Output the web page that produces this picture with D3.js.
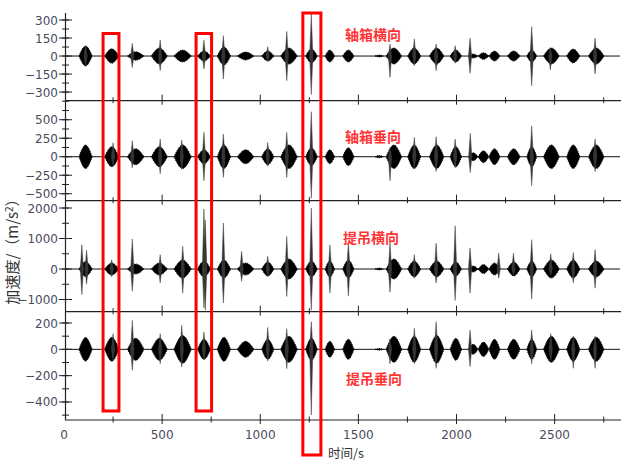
<!DOCTYPE html>
<html>
<head>
<meta charset="utf-8">
<script src="https://cdn.jsdelivr.net/npm/d3@7/dist/d3.min.js"></script>
<style>
    body { margin: 0; background: #fff; }
    svg { display: block; }
</style>
</head>
<body>
<div id="space"></div>
<script>
// time span of each burst (s)
var bursts = [
    [76, 144], [207, 280], [323, 408], [445, 527], [560, 649], [680, 747], [781, 849],
    [883, 968], [1007, 1070], [1104, 1189], [1231, 1291], [1330, 1379], [1420, 1478],
    [1585, 1627], [1641, 1721], [1751, 1818], [1862, 1936], [1967, 2026],
    [2060, 2110], [2110, 2165], [2165, 2222], [2259, 2324], [2358, 2409],
    [2443, 2524], [2561, 2629], [2672, 2752]
];

// body amplitude of each burst, one list per panel (m/s2)
var ampAxleLat = [83, 60, 35, 67, 50, 42, 75, 33, 42, 67, 58, 50, 50, 8, 67, 67, 67, 50, 17, 28, 42, 42, 50, 67, 58, 67];
var ampAxleVer = [160, 135, 108, 135, 160, 95, 160, 95, 108, 160, 120, 95, 120, 15, 160, 160, 160, 135, 54, 80, 108, 108, 135, 160, 160, 160];
var ampHangLat = [245, 200, 165, 200, 295, 260, 295, 200, 230, 330, 260, 260, 295, 30, 330, 260, 260, 230, 100, 150, 200, 230, 260, 295, 295, 260];
var ampHangVer = [90, 91, 84, 84, 106, 76, 91, 61, 76, 99, 84, 61, 76, 6, 99, 99, 106, 84, 38, 55, 76, 76, 76, 99, 91, 91];

// isolated peaks: [time, max, min]
var spkAxleLat = [[110, 85, -75], [348, 105, -95], [490, 133, -122], [713, 133, -108], [812, 170, -192],
    [1038, 78, -45], [1135, 205, -205], [1260, 350, -320], [1661, 100, -178], [1785, 142, -80],
    [1896, 100, -122], [1993, 86, -60], [2069, 150, -144], [2383, 245, -247], [2478, 70, -117], [2706, 150, -150]];
var spkAxleVer = [[250, 190, -120], [348, 216, -150], [490, 240, -230], [600, 225, -170], [713, 330, -324],
    [812, 306, -280], [1038, 193, -130], [1135, 330, -280], [1260, 608, -560], [1661, 120, -324],
    [1785, 260, -150], [1896, 270, -200], [1993, 238, -150], [2070, 315, -212], [2383, 418, -392], [2706, 238, -200]];
var spkHangLat = [[91, 800, -840], [115, 620, -500], [243, 300, -250], [348, 985, -730], [490, 470, -460],
    [605, 745, -790], [713, 1970, -1280], [720, 1600, -1350], [812, 1510, -1115], [905, 580, -400],
    [1038, 415, -250], [1135, 1070, -900], [1260, 2000, -1350], [1355, 790, -790], [1449, 850, -890],
    [1661, 850, -760], [1785, 470, -300], [1896, 850, -460], [1993, 1420, -1030], [2069, 690, -790],
    [2215, 525, -300], [2290, 520, -200], [2383, 960, -985], [2480, 500, -200], [2595, 540, -460], [2706, 630, -630]];
var spkHangVer = [[250, 119, -80], [348, 220, -160], [490, 119, -110], [600, 182, -134], [713, 132, -80],
    [1038, 167, -90], [1135, 157, -147], [1260, 210, -500], [1661, 80, -110], [1785, 160, -110],
    [1896, 210, -144], [2069, 147, -131], [2383, 147, -110], [2480, 120, -90], [2595, 100, -144], [2706, 100, -144]];

var panelNames = ["轴箱横向", "轴箱垂向", "提吊横向", "提吊垂向"];
var yDomains = [[-372, 356], [-594, 757], [-1400, 2240], [-537, 286]];
var yMajor = [[-300, -150, 0, 150, 300], [-500, -250, 0, 250, 500], [-1000, 0, 1000, 2000], [-400, -200, 0, 200]];
var yMinorStep = [75, 125, 500, 100];
var xTicks = [0, 500, 1000, 1500, 2000, 2500];
var xMinorStep = 250;

// marked time windows (s)
var boxes = [[199, 280], [673, 752], [1217, 1309]];

var svg, x;

function init() {
    svg = d3.select("#space").append("svg")
        .attr("width", 622)
        .attr("height", 461);

    x = d3.scaleLinear().domain([0, 2833]).range([64, 620]);

    var amps = [ampAxleLat, ampAxleVer, ampHangLat, ampHangVer];
    var spikes = [spkAxleLat, spkAxleVer, spkHangLat, spkHangVer];
    var tops = [13.3, 100.7, 200.7, 311.7];
    var bottoms = [100.7, 200.7, 311.7, 420];
    var labelPos = [[345, 40], [345, 142], [343, 243], [346, 384]];

    for (var i = 0; i < 4; i++) {
        var y = d3.scaleLinear().domain(yDomains[i]).range([bottoms[i], tops[i]]);
        drawPanel(i, y, amps[i], spikes[i], bottoms[i], i == 3);

        svg.append("text")
            .attr("x", labelPos[i][0])
            .attr("y", labelPos[i][1])
            .attr("font-family", "Noto Sans CJK SC")
            .attr("font-size", "14")
            .attr("font-weight", "bold")
            .attr("fill", "#ff3535")
            .text(panelNames[i]);
    }

    //Left axis line
    svg.append("line")
        .attr("x1", 65.5).attr("x2", 65.5)
        .attr("y1", 13).attr("y2", 420)
        .attr("stroke", "#222").attr("stroke-width", 1.2);

    //Axis titles
    svg.append("text")
        .attr("transform", "translate(18,248) rotate(-90)")
        .attr("text-anchor", "middle")
        .attr("font-family", "Noto Sans CJK SC")
        .attr("font-size", "15")
        .attr("fill", "#333")
        .html("加速度/（m/s<tspan dy='-5' font-size='10'>2</tspan><tspan dy='5'>）</tspan>");

    svg.append("text")
        .attr("x", 328)
        .attr("y", 457.5)
        .attr("font-family", "Noto Sans CJK SC")
        .attr("font-size", "12.5")
        .attr("fill", "#333")
        .text("时间/s");

    //Red marks
    svg.append("g").selectAll("rect")
        .data(boxes)
        .enter()
        .append("rect")
        .attr("x", function (d) { return x(d[0]); })
        .attr("width", function (d) { return x(d[1]) - x(d[0]); })
        .attr("y", function (d, j) { return j == 2 ? 13 : 33.5; })
        .attr("height", function (d, j) { return j == 2 ? 442 : 377.5; })
        .attr("fill", "none")
        .attr("stroke", "#ff0000")
        .attr("stroke-width", 3);
}

function drawPanel(idx, y, amp, spk, bottom, showLabels) {
    var g = svg.append("g");
    var y0 = y(0);

    //Zero line
    g.append("line")
        .attr("x1", 65).attr("x2", 620)
        .attr("y1", y0).attr("y2", y0)
        .attr("stroke", "#111").attr("stroke-width", 1);

    //Burst bodies
    var area = d3.area()
        .x(function (d) { return x(d[0]); })
        .y0(function (d) { return y(-d[1]); })
        .y1(function (d) { return y(d[1]); })
        .curve(d3.curveNatural);

    g.selectAll("path.burst")
        .data(bursts)
        .enter()
        .append("path")
        .attr("class", "burst")
        .attr("d", function (d, j) {
            return area([[d[0], 0], [(d[0] + d[1]) / 2, amp[j]], [d[1], 0]]);
        })
        .attr("fill", "#000")
        .attr("stroke", "#111")
        .attr("stroke-width", 1)
        .attr("stroke-dasharray", "1,1");

    //Peaks, drawn as thin tapered needles
    g.selectAll("path.spike")
        .data(spk)
        .enter()
        .append("path")
        .attr("class", "spike")
        .attr("d", function (d) {
            var px = x(d[0]);
            return "M" + (px - 1.6) + "," + y0 + "L" + px + "," + y(d[1]) +
                "L" + (px + 1.6) + "," + y0 + "L" + px + "," + y(d[2]) + "Z";
        })
        .attr("fill", "#333")
        .attr("stroke", "#444")
        .attr("stroke-width", 0.5);

    //Y ticks
    var dom = yDomains[idx];
    var minor = d3.range(Math.ceil(dom[0] / yMinorStep[idx]) * yMinorStep[idx], dom[1], yMinorStep[idx]);
    g.selectAll("line.ymin")
        .data(minor)
        .enter()
        .append("line")
        .attr("x1", 62).attr("x2", 69)
        .attr("y1", function (d) { return y(d); })
        .attr("y2", function (d) { return y(d); })
        .attr("stroke", "#222");

    g.selectAll("line.ymaj")
        .data(yMajor[idx])
        .enter()
        .append("line")
        .attr("x1", 59).attr("x2", 72)
        .attr("y1", function (d) { return y(d); })
        .attr("y2", function (d) { return y(d); })
        .attr("stroke", "#222");

    g.selectAll("text.ylab")
        .data(yMajor[idx])
        .enter()
        .append("text")
        .attr("x", 58)
        .attr("y", function (d) { return y(d) + 4.5; })
        .attr("text-anchor", "end")
        .attr("font-family", "DejaVu Sans")
        .attr("font-size", "12")
        .attr("fill", "#4a4a5e")
        .text(function (d) { return d3.format("d")(d).replace("-", "−"); });

    //Bottom axis of the panel
    g.append("line")
        .attr("x1", 65).attr("x2", 621)
        .attr("y1", bottom).attr("y2", bottom)
        .attr("stroke", "#222").attr("stroke-width", 1.2);

    var xMinor = d3.range(xMinorStep, 2833, xMinorStep * 2);
    g.selectAll("line.xmin")
        .data(xMinor)
        .enter()
        .append("line")
        .attr("x1", function (d) { return x(d); })
        .attr("x2", function (d) { return x(d); })
        .attr("y1", bottom - 3.5).attr("y2", bottom + 2.5)
        .attr("stroke", "#222");

    g.selectAll("line.xmaj")
        .data(xTicks.slice(1))
        .enter()
        .append("line")
        .attr("x1", function (d) { return x(d); })
        .attr("x2", function (d) { return x(d); })
        .attr("y1", bottom - 6).attr("y2", bottom + 4)
        .attr("stroke", "#222");

    if (showLabels) {
        g.selectAll("text.xlab")
            .data(xTicks)
            .enter()
            .append("text")
            .attr("x", function (d) { return x(d); })
            .attr("y", bottom + 18.5)
            .attr("text-anchor", "middle")
            .attr("font-family", "DejaVu Sans")
            .attr("font-size", "12")
            .attr("fill", "#4a4a5e")
            .text(function (d) { return d; });
    }
}

init();
</script>
</body>
</html>
